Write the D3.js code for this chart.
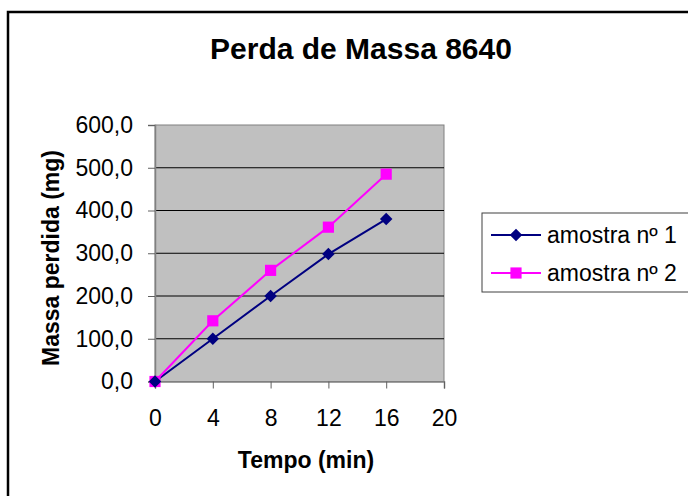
<!DOCTYPE html>
<html lang="en">
<head>
  <meta charset="UTF-8">
  <title>Perda de Massa 8640</title>
  <style>
    body {
      margin: 0;
      padding: 0;
      background: white;
    }
    text {
      font-family: "Liberation Sans", Arial, sans-serif;
    }
  </style>
</head>
<body>
<svg width="688" height="496"></svg>
<script src="https://d3js.org/d3.v7.min.js"></script>
<script>
const tempo = [0, 4, 8, 12, 16];
const amostra1 = [0, 100, 200, 298, 380];
const amostra2 = [0, 142, 260, 361, 485];
const seriesNames = ["amostra nº 1", "amostra nº 2"];
const xTicks = [0, 4, 8, 12, 16, 20];
const yTicks = [0, 100, 200, 300, 400, 500, 600];

const svg = d3.select("svg");
const plot = {left: 155, right: 444, top: 125, bottom: 381.5};

// outer chart border (runs off the right/bottom edges)
svg.append("rect")
  .attr("x", 8).attr("y", 12)
  .attr("width", 700).attr("height", 500)
  .attr("fill", "white")
  .attr("stroke", "black")
  .attr("stroke-width", 2.5);

const x = d3.scaleLinear().domain([0, 20]).range([plot.left, plot.right]);
const y = d3.scaleLinear().domain([0, 600]).range([plot.bottom, plot.top]);

svg.append("rect")
  .attr("x", plot.left).attr("y", plot.top)
  .attr("width", plot.right - plot.left)
  .attr("height", plot.bottom - plot.top)
  .attr("fill", "#c0c0c0")
  .attr("stroke", "#808080")
  .attr("stroke-width", 1);

// gridlines
svg.append("g")
  .selectAll("line")
  .data(yTicks.filter(d => d > 0 && d < 600))
  .join("line")
  .attr("x1", plot.left).attr("x2", plot.right)
  .attr("y1", d => y(d)).attr("y2", d => y(d))
  .attr("stroke", "black")
  .attr("stroke-width", 1);

const yAxis = svg.append("g")
  .attr("transform", `translate(${plot.left},0)`)
  .call(d3.axisLeft(y).tickValues(yTicks).tickSize(7).tickPadding(15)
    .tickFormat(d => d3.format(".1f")(d).replace(".", ",")));

const xAxis = svg.append("g")
  .attr("transform", `translate(0,${plot.bottom})`)
  .call(d3.axisBottom(x).tickValues(xTicks).tickSize(7).tickPadding(21));

[yAxis, xAxis].forEach(a => {
  a.select(".domain").attr("stroke", "#808080").attr("stroke-width", 1.5);
  a.selectAll(".tick line").attr("stroke", "#606060");
  a.selectAll("text")
    .attr("font-family", "Liberation Sans, Arial, sans-serif")
    .attr("font-size", 23)
    .attr("fill", "black");
});

const line = d3.line().x((d, i) => x(tempo[i])).y(d => y(d));

svg.append("path")
  .datum(amostra1)
  .attr("fill", "none")
  .attr("stroke", "#000080")
  .attr("stroke-width", 2)
  .attr("d", line);

svg.append("path")
  .datum(amostra2)
  .attr("fill", "none")
  .attr("stroke", "#ff00ff")
  .attr("stroke-width", 2)
  .attr("d", line);

const diamond = d3.symbol().type(d3.symbolDiamond2).size(100);
const square = d3.symbol().type(d3.symbolSquare).size(125);

svg.append("g").selectAll("path")
  .data(amostra2)
  .join("path")
  .attr("transform", (d, i) => `translate(${x(tempo[i])},${y(d)})`)
  .attr("d", square)
  .attr("fill", "#ff00ff");

svg.append("g").selectAll("path")
  .data(amostra1)
  .join("path")
  .attr("transform", (d, i) => `translate(${x(tempo[i])},${y(d)})`)
  .attr("d", diamond)
  .attr("fill", "#000080");

// titles
svg.append("text")
  .attr("x", 361).attr("y", 59)
  .attr("text-anchor", "middle")
  .attr("font-size", 30)
  .attr("font-weight", "bold")
  .text("Perda de Massa 8640");

svg.append("text")
  .attr("x", 306).attr("y", 468)
  .attr("text-anchor", "middle")
  .attr("font-size", 23)
  .attr("font-weight", "bold")
  .text("Tempo (min)");

svg.append("text")
  .attr("transform", "translate(59,258) rotate(-90)")
  .attr("text-anchor", "middle")
  .attr("font-size", 23)
  .attr("font-weight", "bold")
  .text("Massa perdida (mg)");

// legend
const legend = svg.append("g");
legend.append("rect")
  .attr("x", 482).attr("y", 213)
  .attr("width", 220).attr("height", 79)
  .attr("fill", "white")
  .attr("stroke", "#404040")
  .attr("stroke-width", 1);

const colors = ["#000080", "#ff00ff"];
const shapes = [diamond, square];
seriesNames.forEach((name, i) => {
  const ly = 235 + i * 38;
  legend.append("line")
    .attr("x1", 491).attr("x2", 541)
    .attr("y1", ly).attr("y2", ly)
    .attr("stroke", colors[i]).attr("stroke-width", 2);
  legend.append("path")
    .attr("transform", `translate(516,${ly})`)
    .attr("d", shapes[i])
    .attr("fill", colors[i]);
  legend.append("text")
    .attr("x", 547).attr("y", ly + 8)
    .attr("font-size", 23)
    .text(name);
});
</script>
</body>
</html>
